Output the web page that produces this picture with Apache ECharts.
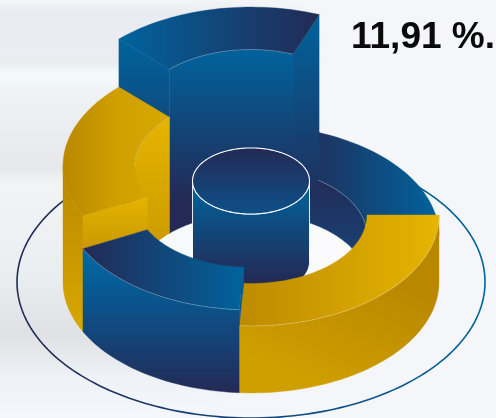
<!DOCTYPE html>
<html><head><meta charset="utf-8">
<style>html,body{margin:0;padding:0;background:#f4f6fa}#c{width:496px;height:418px}</style>
<script src="https://cdn.jsdelivr.net/npm/echarts@6/dist/echarts.min.js"></script>
</head><body><div id="c"></div>
<script>
// Slices, clockwise from the east point of the ring
const sliceNames   = ['Gold front', 'Blue front', 'Gold left', 'Blue back', 'Blue right'];
const sliceShares  = [26.0, 16.6, 20.0, 18.3, 19.1];
const sliceHeights = [67, 83, 116, 164, 46];
const sliceTones   = ['gold', 'blue', 'gold', 'blue', 'blue'];
const drawOrder    = [4, 3, 2, 0, 1];
const hubBase = 20, hubTop = 101;
const labelText = '11,91 %.';

const outerR = 188, innerR = 116, hubR = 58.5, orbitRx = 234, orbitRy = 136, tilt = 0.59;
const NAVY = '#232a55', BLUE = '#00639d', GOLD_HI = '#e6b400', GOLD_LO = '#ba8800';
const rad = d => d * Math.PI / 180;
const G = echarts.graphic;

const total = sliceShares.reduce((a, b) => a + b, 0);
const starts = []; let acc = 0;
sliceShares.forEach(v => { starts.push(acc / total * 360); acc += v; });

function arc(api, r, a0, a1, h, ry) {
  const n = Math.max(2, Math.ceil(Math.abs(a1 - a0) / 1.5)), pts = [];
  const k = ry === undefined ? r * tilt : ry;
  for (let i = 0; i <= n; i++) {
    const a = rad(a0 + (a1 - a0) * i / n);
    pts.push(api.coord([r * Math.cos(a), h - k * Math.sin(a)]));
  }
  return pts;
}
const poly = (points, fill, stroke, lw) => ({
  type: 'polygon', shape: { points }, style: { fill, stroke: stroke || fill, lineWidth: lw === undefined ? 0.4 : lw }
});
const line = (points, stroke, lw) => ({
  type: 'polyline', shape: { points }, style: { fill: 'none', stroke, lineWidth: lw || 0.8 }
});
const vGrad = (y0, y1, stops) => new G.LinearGradient(0, y0, 0, y1, stops, true);
const hGrad = (x0, x1, c0, c1) => new G.LinearGradient(x0, 0, x1, 0, [{ offset: 0, color: c0 }, { offset: 1, color: c1 }], true);
const bbox = pts => {
  const xs = pts.map(p => p[0]), ys = pts.map(p => p[1]);
  return { x0: Math.min(...xs), x1: Math.max(...xs), y0: Math.min(...ys), y1: Math.max(...ys) };
};

function renderSlice(params, api) {
  const i = api.value(0), a0 = starts[i], a1 = a0 + sliceShares[i] / total * 360, h = sliceHeights[i];
  const gold = sliceTones[i] === 'gold', kids = [];
  const topPts = arc(api, outerR, a0, a1, h).concat(arc(api, innerR, a1, a0, h));
  const bTop = bbox(topPts);

  // inner wall (only the far half of the hole shows)
  const iA = Math.max(a0, 180), iB = Math.min(a1, 360);
  if (iB > iA) {
    const pts = arc(api, innerR, iA, iB, h).concat(arc(api, innerR, iB, iA, 0));
    const b = bbox(pts);
    let fill;
    if (gold) fill = vGrad(b.y0, b.y1, [{ offset: 0, color: GOLD_HI }, { offset: 1, color: '#c49400' }]);
    else if (h > 100) fill = vGrad(b.y0, b.y0 + 150, [{ offset: 0, color: BLUE }, { offset: 1, color: NAVY }]);
    else fill = vGrad(b.y0, b.y1, [{ offset: 0, color: NAVY }, { offset: 1, color: '#15497f' }]);
    kids.push(poly(pts, fill));
  }
  // outer wall (only the near half shows)
  const oA = Math.max(a0, 0), oB = Math.min(a1, 180);
  if (oB > oA) {
    const pts = arc(api, outerR, oA, oB, h).concat(arc(api, outerR, oB, oA, 0));
    const b = bbox(pts);
    let fill;
    if (gold && a0 < 90) fill = new G.LinearGradient(b.x0 + (b.x1 - b.x0) * 0.72, b.y0 + 60, b.x0 + (b.x1 - b.x0) * 0.45, b.y1,
      [{ offset: 0, color: GOLD_LO }, { offset: 1, color: '#cf9f00' }], true);
    else if (gold) fill = vGrad(b.y0, b.y1, [{ offset: 0, color: GOLD_LO }, { offset: 1, color: '#d8a700' }]);
    else fill = vGrad(b.y0, b.y1, [{ offset: 0, color: '#006aa6' }, { offset: 0.42, color: '#0c5189' }, { offset: 1, color: NAVY }]);
    kids.push(poly(pts, fill));
  }
  // end faces looking towards the viewer; on the far side they run down to the ground,
  // on the near side they stop at the top of the lower neighbour
  const face = (a, neighbour) => {
    const floor = Math.sin(rad(a)) < 0 ? 0 : neighbour;
    const at = (r, z) => arc(api, r, a, a, z)[0];
    const full = bbox([at(innerR, h), at(outerR, h), at(outerR, 0), at(innerR, 0)]);
    const pts = [at(innerR, h), at(outerR, h), at(outerR, floor), at(innerR, floor)];
    const b = bbox(pts);
    const fill = gold ? vGrad(b.y0, b.y0 + 60, [{ offset: 0, color: GOLD_HI }, { offset: 1, color: '#c49400' }])
                      : vGrad(full.y0, full.y1, [{ offset: 0, color: BLUE }, { offset: 1, color: NAVY }]);
    kids.push(poly(pts, fill));
  };
  const n = sliceHeights.length, next = (i + 1) % n, prev = (i + n - 1) % n;
  if (sliceHeights[prev] < h && Math.cos(rad(a0)) < 0) face(a0, sliceHeights[prev]);
  if (sliceHeights[next] < h && Math.cos(rad(a1)) > 0) face(a1, sliceHeights[next]);

  // top face
  let topFill;
  if (gold && a0 < 90) topFill = hGrad(bTop.x0, bTop.x1, '#bd8b00', GOLD_HI);
  else if (gold) topFill = new G.LinearGradient(bTop.x0, 0, bTop.x1, 0, [{ offset: 0, color: GOLD_LO }, { offset: 0.5, color: '#cf9f00' }, { offset: 1, color: '#d8a800' }], true);
  else if (a0 > 270) topFill = hGrad(bTop.x0, bTop.x1, NAVY, BLUE);
  else if (a0 > 200) topFill = hGrad(bTop.x0, bTop.x1, BLUE, NAVY);
  else topFill = hGrad(bTop.x0, bTop.x1, NAVY, BLUE);
  kids.push(poly(topPts, topFill));
  // soft highlight along the rim
  const rim = 'rgba(255,255,255,0.32)';
  if (oB > oA && !(gold && a0 > 90)) kids.push(line(arc(api, outerR, oA, oB, h), rim));
  if (iB > iA) kids.push(line(arc(api, innerR, iA, iB, h), rim));
  return { type: 'group', children: kids };
}

function renderHub(params, api) {
  const base = api.value(0), top = api.value(1);
  const side = arc(api, hubR, 0, 180, base, hubR * 0.565).concat(arc(api, hubR, 180, 0, top, hubR * 0.565));
  const lid = arc(api, hubR, 0, 360, top, hubR * 0.565);
  const bS = bbox(lid), cy = (bS.y0 + bS.y1) / 2;
  return { type: 'group', children: [
    poly(side, vGrad(cy, cy + 100, [{ offset: 0, color: '#00659f' }, { offset: 1, color: NAVY }]), '#ffffff', 0.9),
    poly(lid, vGrad(bS.y0, bS.y1, [{ offset: 0, color: NAVY }, { offset: 1, color: '#0e5088' }]), '#ffffff', 1.1)
  ]};
}

function renderOrbit(params, api) {
  const pts = arc(api, orbitRx, 0, 360, 0, orbitRy);
  const b = bbox(pts);
  return { type: 'group', children: [
    { type: 'polygon', shape: { points: pts }, style: { fill: 'none', stroke: hGrad(b.x0, b.x1, NAVY, BLUE), lineWidth: 1.6 } },
    poly(arc(api, innerR, 0, 360, 0), 'rgba(255,255,255,0.6)', 'none', 0)
  ]};
}

const chart = echarts.init(document.getElementById('c'), null, { renderer: 'canvas' });
chart.setOption({
  animation: false,
  backgroundColor: new G.LinearGradient(0, 0, 0, 1, [
    { offset: 0, color: '#f4f5f8' }, { offset: 0.03, color: '#e9ebf0' }, { offset: 0.15, color: '#ebedf1' },
    { offset: 0.175, color: '#f4fafb' }, { offset: 0.23, color: '#eff1f5' }, { offset: 0.4, color: '#e6e8eb' },
    { offset: 0.44, color: '#f1f3f7' }, { offset: 0.66, color: '#ebeef1' }, { offset: 0.8, color: '#dfe1e4' },
    { offset: 0.9, color: '#eef1f5' }, { offset: 1, color: '#f4f7fb' }
  ]),
  title: {
    text: labelText, left: 351, top: 19, padding: 0,
    textStyle: { fontFamily: '"Liberation Sans"', fontWeight: 'bold', fontSize: 37, color: '#0a0a0a' }
  },
  graphic: { elements: [{
    type: 'rect', silent: true, z: 0, shape: { x: 180, y: 0, width: 316, height: 418 },
    style: { fill: new G.LinearGradient(180, 0, 330, 0, [
      { offset: 0, color: 'rgba(244,246,250,0)' }, { offset: 1, color: 'rgba(244,246,250,1)' }], true) }
  }] },
  grid: { left: 0, right: 0, top: 0, bottom: 0 },
  xAxis: { type: 'value', min: -251, max: 245, show: false },
  yAxis: { type: 'value', min: -136, max: 282, show: false },
  series: [
    { type: 'custom', z: 2, clip: false, silent: true, data: [[0]], renderItem: renderOrbit },
    { type: 'custom', z: 3, clip: false, silent: true, encode: { x: 0, y: 1 },
      data: drawOrder.slice(0, 3).map(i => ({ name: sliceNames[i], value: [i, sliceHeights[i]] })), renderItem: renderSlice },
    { type: 'custom', z: 4, clip: false, silent: true, encode: { x: 0, y: 1 }, data: [[hubBase, hubTop]], renderItem: renderHub },
    { type: 'custom', z: 5, clip: false, silent: true, encode: { x: 0, y: 1 },
      data: drawOrder.slice(3).map(i => ({ name: sliceNames[i], value: [i, sliceHeights[i]] })), renderItem: renderSlice }
  ]
});
</script></body></html>
